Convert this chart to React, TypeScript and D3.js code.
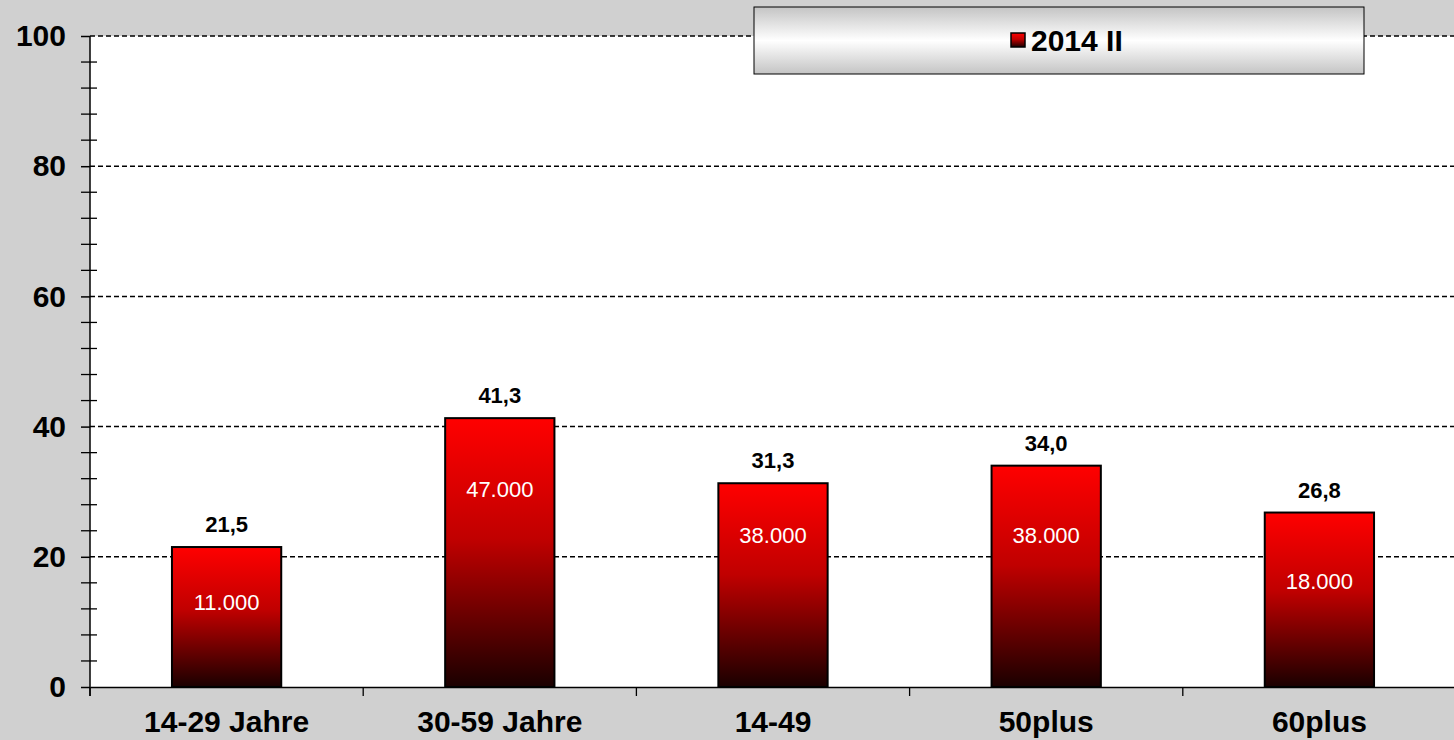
import React, { useEffect, useRef } from 'react';
import * as d3 from 'd3';

const categories = ['14-29 Jahre', '30-59 Jahre', '14-49', '50plus', '60plus'];
const shares = [21.5, 41.3, 31.3, 34.0, 26.8];
const persons = ['11.000', '47.000', '38.000', '38.000', '18.000'];
// where the white person labels sit, read in axis units
const personLabelAt = [13.0, 30.3, 23.3, 23.3, 16.3];
const yTicks = [0, 20, 40, 60, 80, 100];
const seriesName = '2014 II';

const App = () => {
    const svgRef = useRef(null);

    useEffect(() => {
        const svg = d3.select(svgRef.current);
        svg.selectAll('*').remove();
        const width = 1454;
        const height = 740;
        const left = 90;
        const right = 1456;
        const top = 36;
        const bottom = 687;
        const font = 'Liberation Sans, Arial, sans-serif';

        const defs = svg.append('defs');
        const barGrad = defs.append('linearGradient').attr('id', 'barGrad')
            .attr('x1', 0).attr('y1', 0).attr('x2', 0).attr('y2', 1);
        barGrad.append('stop').attr('offset', '0%').attr('stop-color', '#ff0000');
        barGrad.append('stop').attr('offset', '45%').attr('stop-color', '#c00000');
        barGrad.append('stop').attr('offset', '100%').attr('stop-color', '#1a0000');
        const legGrad = defs.append('linearGradient').attr('id', 'legGrad')
            .attr('x1', 0).attr('y1', 0).attr('x2', 0).attr('y2', 1);
        legGrad.append('stop').attr('offset', '0%').attr('stop-color', '#c4c4c4');
        legGrad.append('stop').attr('offset', '50%').attr('stop-color', '#ffffff');
        legGrad.append('stop').attr('offset', '100%').attr('stop-color', '#c4c4c4');

        svg.append('rect').attr('width', width).attr('height', height).attr('fill', '#d0d0d0');
        svg.append('rect').attr('x', left).attr('y', top).attr('width', right - left).attr('height', bottom - top).attr('fill', '#fff');

        const xScale = d3.scaleBand().domain(categories).range([left, right]);
        const yScale = d3.scaleLinear().domain([0, 100]).range([bottom, top]);
        const barW = xScale.bandwidth() * 0.4;

        // gridlines
        svg.selectAll('.grid').data(yTicks.filter(t => t > 0)).enter().append('line')
            .attr('x1', left).attr('x2', right)
            .attr('y1', d => yScale(d)).attr('y2', d => yScale(d))
            .attr('stroke', '#000').attr('stroke-width', 1.5).attr('stroke-dasharray', '5,3');

        // y axis
        const yAxis = d3.axisLeft(yScale).tickValues(yTicks).tickSize(9).tickPadding(15).tickFormat(d3.format('d'));
        const yg = svg.append('g').attr('transform', `translate(${left},0)`).call(yAxis);
        yg.select('.domain').remove();
        yg.selectAll('text').attr('font-family', font)
            .attr('font-weight', 'bold').attr('font-size', 30).attr('fill', '#000');
        yg.selectAll('line').attr('stroke-width', 1.5);
        const minor = d3.range(0, 101, 4).filter(v => v % 20 !== 0);
        svg.selectAll('.minor').data(minor).enter().append('line')
            .attr('x1', left - 9).attr('x2', left + 7)
            .attr('y1', d => yScale(d)).attr('y2', d => yScale(d))
            .attr('stroke', '#000').attr('stroke-width', 1.3);
        svg.append('line').attr('x1', left).attr('x2', left).attr('y1', top).attr('y2', bottom + 9)
            .attr('stroke', '#000').attr('stroke-width', 1.5);

        // bars
        const bars = svg.selectAll('.bar').data(categories).enter().append('g');
        bars.append('rect')
            .attr('x', d => xScale(d) + (xScale.bandwidth() - barW) / 2)
            .attr('y', (d, i) => yScale(shares[i]))
            .attr('width', barW)
            .attr('height', (d, i) => bottom - yScale(shares[i]))
            .attr('fill', 'url(#barGrad)').attr('stroke', '#000').attr('stroke-width', 2);
        bars.append('text')
            .attr('x', d => xScale(d) + xScale.bandwidth() / 2)
            .attr('y', (d, i) => yScale(shares[i]) - 15)
            .attr('text-anchor', 'middle')
            .attr('font-family', font)
            .attr('font-weight', 'bold').attr('font-size', 22)
            .text((d, i) => d3.format('.1f')(shares[i]).replace('.', ','));
        bars.append('text')
            .attr('x', d => xScale(d) + xScale.bandwidth() / 2)
            .attr('y', (d, i) => yScale(personLabelAt[i]))
            .attr('dy', '0.35em')
            .attr('text-anchor', 'middle')
            .attr('font-family', font)
            .attr('font-size', 22).attr('fill', '#fff')
            .text((d, i) => persons[i]);

        // x axis
        const xAxis = d3.axisBottom(xScale).tickSize(0).tickPadding(24);
        const xg = svg.append('g').attr('transform', `translate(0,${bottom})`).call(xAxis);
        xg.select('.domain').attr('stroke-width', 1.5);
        xg.selectAll('text').attr('font-family', font)
            .attr('font-weight', 'bold').attr('font-size', 30).attr('fill', '#000');
        svg.selectAll('.xtick').data(categories).enter().append('line')
            .attr('x1', d => xScale(d)).attr('x2', d => xScale(d))
            .attr('y1', bottom).attr('y2', bottom + 9)
            .attr('stroke', '#000').attr('stroke-width', 1.3);

        // legend
        const leg = svg.append('g');
        leg.append('rect').attr('x', 754).attr('y', 7).attr('width', 610).attr('height', 67)
            .attr('fill', 'url(#legGrad)').attr('stroke', '#000').attr('stroke-width', 1);
        leg.append('rect').attr('x', 1011).attr('y', 33).attr('width', 14).attr('height', 14)
            .attr('fill', 'url(#barGrad)').attr('stroke', '#000').attr('stroke-width', 1.5);
        leg.append('text').attr('x', 1031).attr('y', 51)
            .attr('font-family', font)
            .attr('font-weight', 'bold').attr('font-size', 30).text(seriesName);
    }, []);

    return (
        <svg ref={svgRef} width="1454" height="740" style={{ position: 'absolute', left: 0, top: 0 }}></svg>
    );
};

export default App;
